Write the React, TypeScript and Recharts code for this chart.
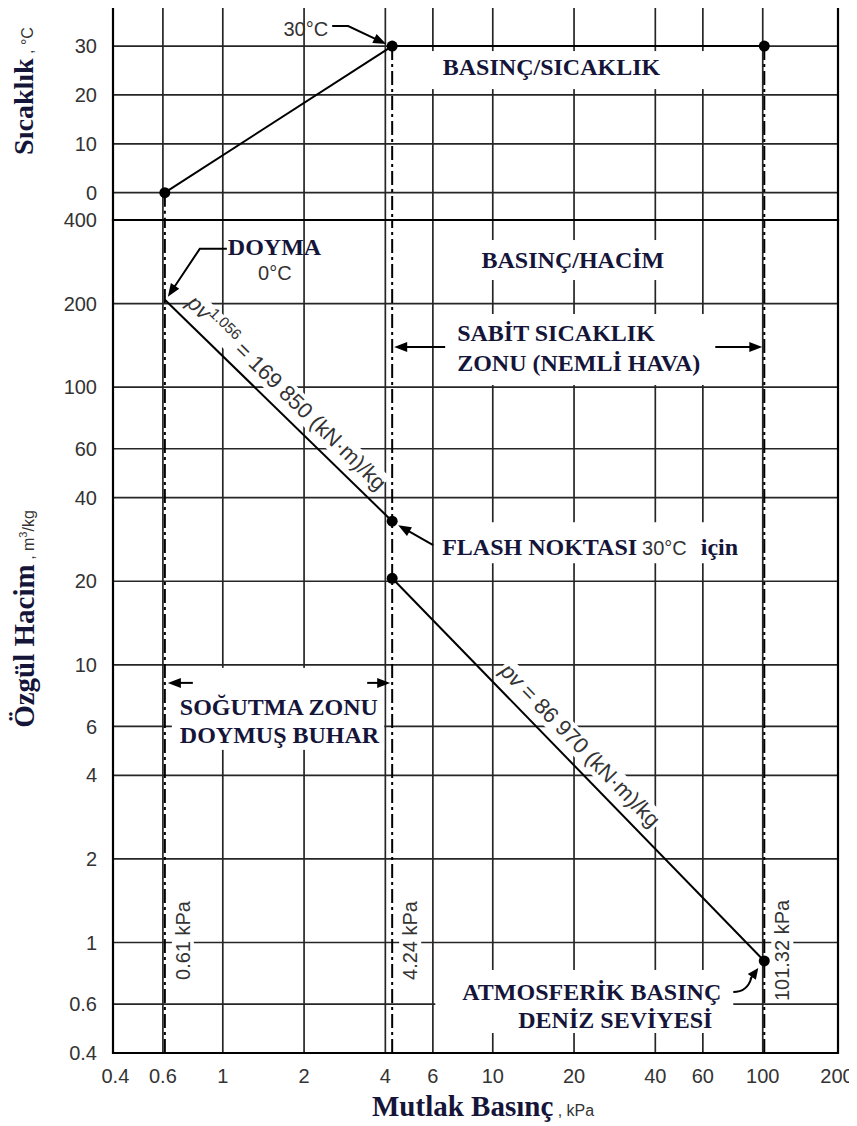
import React from 'react';
import {
  ComposedChart,
  Line,
  Scatter,
  XAxis,
  YAxis,
  CartesianGrid,
  ReferenceLine,
  ReferenceDot,
  ReferenceArea,
} from 'recharts';

// ---------- data ----------
const pressureTicks = [0.4, 0.6, 1, 2, 4, 6, 10, 20, 40, 60, 100, 200];
const pressureGrid = [0.6, 1, 2, 4, 6, 10, 20, 40, 60, 100];
const tempTicks = [0, 10, 20, 30];
const volumeTicks = [0.4, 0.6, 1, 2, 4, 6, 10, 20, 40, 60, 100, 200, 400];
const volumeGrid = [0.6, 1, 2, 4, 6, 10, 20, 40, 60, 100, 200];

const keyPressures = [0.61, 4.24, 101.32];
const keyTemps = [0, 30, 30];

const tempRise = [
  { p: 0.61, t: 0 },
  { p: 4.24, t: 30 },
];
const tempConstant = [
  { p: 4.24, t: 30 },
  { p: 101.32, t: 30 },
];
const tempPoints = [
  { p: 0.61, t: 0 },
  { p: 4.24, t: 30 },
  { p: 101.32, t: 30 },
];

const saturationLine = [
  { p: 0.61, v: 206.6 },
  { p: 4.24, v: 32.9 },
];
const airLine = [
  { p: 4.24, v: 20.5 },
  { p: 101.32, v: 0.858 },
];
const volumePoints = [
  { p: 4.24, v: 32.9 },
  { p: 4.24, v: 20.5 },
  { p: 101.32, v: 0.858 },
];

// axis ranges
const P_DOMAIN: [number, number] = [0.392, 190];
const T_DOMAIN: [number, number] = [-5.6, 38.2];
const V_DOMAIN: [number, number] = [0.4, 400];

// annotation anchors (data space)
const SICAKLIK_ANCHOR = { p: 16.5, t: 25.7 };
const HACIM_ANCHOR = { p: 19.8, v: 287 };
const SABIT_ZONE_V = 139.5;
const SOGUTMA_ZONE_V = 8.61;
const KPA_LABEL_V = 1;

// ---------- styles ----------
const SERIF = "'Liberation Serif', 'Times New Roman', serif";
const SANS = "'Liberation Sans', Arial, sans-serif";
const INK = '#15153a';
const GRAY = '#333333';
const GRID = '#262626';
const DASHDOT = '14 4 3 4';
const PLOT_RIGHT_PX = 838;

const tickStyle = { fill: GRAY, fontSize: 20, fontFamily: SANS };

// ---------- helpers ----------
function ArrowPolyline({ pts, head = 13, half = 5 }: { pts: number[][]; head?: number; half?: number }) {
  const n = pts.length;
  const [x0, y0] = pts[n - 2];
  const [x1, y1] = pts[n - 1];
  const L = Math.hypot(x1 - x0, y1 - y0) || 1;
  const ux = (x1 - x0) / L;
  const uy = (y1 - y0) / L;
  const bx = x1 - ux * head;
  const by = y1 - uy * head;
  const shaft = [...pts.slice(0, -1), [bx + ux, by + uy]].map((q) => q.join(',')).join(' ');
  return (
    <g>
      <polyline points={shaft} fill="none" stroke="#000" strokeWidth={2} />
      <polygon
        points={`${x1},${y1} ${bx - uy * half},${by + ux * half} ${bx + uy * half},${by - ux * half}`}
        fill="#000"
      />
    </g>
  );
}

const boldText = { fontFamily: SERIF, fontWeight: 700 as const, fontSize: 24, fill: INK };
const sansText = { fontFamily: SANS, fontSize: 20, fill: GRAY };

const dotShape = (props: any) => <circle cx={props.cx} cy={props.cy} r={5.5} fill="#000" />;

const PressureTick = (props: any) => {
  const { x, y, payload } = props;
  return (
    <text x={Math.min(x, PLOT_RIGHT_PX - 1)} y={y} dy="0.71em" textAnchor="middle" {...tickStyle}>
      {payload.value}
    </text>
  );
};

// 30°C callout, anchored on the 30 °C point
const Callout30 = ({ cx, cy }: any) => (
  <g>
    <text x={cx - 64} y={cy - 10} textAnchor="end" {...sansText}>
      {`${keyTemps[1]}°C`}
    </text>
    <ArrowPolyline pts={[[cx - 60, cy - 20], [cx - 44, cy - 20], [cx - 6, cy - 2]]} />
  </g>
);

// DOYMA callout, anchored at start of saturation line
const CalloutDoyma = ({ cx, cy }: any) => (
  <g>
    <text x={cx + 63} y={cy - 45} {...boldText}>
      DOYMA
    </text>
    <text x={cx + 110} y={cy - 20} textAnchor="middle" {...sansText}>
      {`${keyTemps[0]}°C`}
    </text>
    <ArrowPolyline pts={[[cx + 62, cy - 51], [cx + 35, cy - 51], [cx + 3, cy - 3]]} />
  </g>
);

const BoxLabel = ({ cx, cy, text, left, right, top, bottom }: any) => (
  <g>
    <rect x={cx - left} y={cy - top} width={left + right} height={top + bottom} fill="#fff" />
    <text x={cx} y={cy + 8} textAnchor="middle" {...boldText}>
      {text}
    </text>
  </g>
);

const CalloutFlash = ({ cx, cy }: any) => (
  <g>
    <rect x={cx + 45} y={cy + 1} width={311} height={41} fill="#fff" />
    <text x={cx + 50} y={cy + 34}>
      <tspan {...boldText}>FLASH NOKTASI</tspan>
      <tspan dx={5} {...sansText}>{`${keyTemps[1]}°C`}</tspan>
      <tspan dx={14} {...boldText}>için</tspan>
    </text>
    <ArrowPolyline pts={[[cx + 41, cy + 24], [cx + 6, cy + 4]]} />
  </g>
);

const CalloutAtm = ({ cx, cy }: any) => (
  <g>
    <rect x={cx - 329} y={cy + 9} width={298} height={63} fill="#fff" />
    <text x={cx - 302} y={cy + 39} {...boldText}>
      ATMOSFERİK BASINÇ
    </text>
    <text x={cx - 246} y={cy + 67} {...boldText}>
      DENİZ SEVİYESİ
    </text>
    <path
      d={`M${cx - 31},${cy + 31} Q${cx - 17},${cy + 31} ${cx - 13},${cy + 17}`}
      fill="none"
      stroke="#000"
      strokeWidth={2}
    />
    <ArrowPolyline pts={[[cx - 14, cy + 18], [cx - 6, cy + 7]]} head={11} half={5} />
  </g>
);

const KpaLabel = ({ cx, cy, text, dy }: any) => {
  const len = text.length * 10 + 2;
  const y = cy + dy;
  const x = cx + 18;
  return (
    <g>
      <rect x={x - 11} y={y - len / 2} width={22} height={len} fill="#fff" />
      <text
        transform={`translate(${x},${y}) rotate(-90)`}
        textAnchor="middle"
        dominantBaseline="central"
        {...sansText}
      >
        {text}
      </text>
    </g>
  );
};

const SabitZone = (props: any) => {
  const { x1, y1, x2 } = props;
  return (
    <g>
      <rect x={x1 + 55} y={y1 - 33} width={x2 - 50 - (x1 + 55)} height={71} fill="#fff" />
      <text x={x1 + 65} y={y1 - 6} {...boldText}>
        SABİT SICAKLIK
      </text>
      <text x={x1 + 65} y={y1 + 24} {...boldText}>
        ZONU (NEMLİ HAVA)
      </text>
      <ArrowPolyline pts={[[x1 + 53, y1], [x1 + 2, y1]]} />
      <ArrowPolyline pts={[[x2 - 49, y1], [x2 - 2, y1]]} />
    </g>
  );
};

const SogutmaZone = (props: any) => {
  const { x1, y1, x2 } = props;
  return (
    <g>
      <rect x={x1 + 7} y={y1 - 15} width={x2 - 8 - (x1 + 7)} height={82} fill="#fff" />
      <text x={x1 + 15} y={y1 + 32} {...boldText}>
        SOĞUTMA ZONU
      </text>
      <text x={x1 + 15} y={y1 + 60} {...boldText}>
        DOYMUŞ BUHAR
      </text>
      <ArrowPolyline pts={[[x1 + 28, y1], [x1 + 3, y1]]} />
      <ArrowPolyline pts={[[x2 - 25, y1], [x2 - 2, y1]]} />
    </g>
  );
};

const makeEquation = (frac: number, offset: number, kind: 'sat' | 'air', boxW: number) => (props: any) => {
  const { x1, y1, x2, y2 } = props;
  const dx = x2 - x1;
  const dy = y2 - y1;
  const L = Math.hypot(dx, dy) || 1;
  const ux = dx / L;
  const uy = dy / L;
  const px = x1 + ux * L * frac + uy * offset;
  const py = y1 + uy * L * frac - ux * offset;
  const ang = (Math.atan2(dy, dx) * 180) / Math.PI;
  return (
    <g transform={`translate(${px},${py}) rotate(${ang})`}>
      <rect x={-boxW / 2} y={-19} width={boxW} height={24} fill="#fff" />
      <text textAnchor="middle" fontFamily={SANS} fontSize={22} fill={GRAY}>
        {kind === 'sat' ? (
          <>
            <tspan fontStyle="italic">pv</tspan>
            <tspan dy={-9} fontSize={15}>1.056</tspan>
            <tspan dy={9}> = 169 850 (kN·m)/kg</tspan>
          </>
        ) : (
          <>
            <tspan fontStyle="italic">pv</tspan>
            <tspan> = 86 970 (kN·m)/kg</tspan>
          </>
        )}
      </text>
    </g>
  );
};

const TempTitle = () => (
  <text transform="translate(33,91) rotate(-90)" textAnchor="middle">
    <tspan fontFamily={SERIF} fontWeight={700} fontSize={28} fill={INK}>
      Sıcaklık
    </tspan>
    <tspan fontFamily={SANS} fontSize={16} fill={GRAY}>
      {' , °C'}
    </tspan>
  </text>
);

const VolumeTitle = () => (
  <text transform="translate(34,419) rotate(-90)" textAnchor="middle">
    <tspan fontFamily={SERIF} fontWeight={700} fontSize={29} fill={INK}>
      Özgül Hacim
    </tspan>
    <tspan fontFamily={SANS} fontSize={16} fill={GRAY}>
      {' , m'}
    </tspan>
    <tspan fontFamily={SANS} fontSize={11} fill={GRAY} dy={-7}>
      3
    </tspan>
    <tspan fontFamily={SANS} fontSize={16} fill={GRAY} dy={7}>
      /kg
    </tspan>
  </text>
);

const PressureTitle = () => (
  <text x={372} y={916}>
    <tspan fontFamily={SERIF} fontWeight={700} fontSize={29} fill={INK}>
      Mutlak Basınç
    </tspan>
    <tspan fontFamily={SANS} fontSize={16} fill={GRAY}>
      {' , kPa'}
    </tspan>
  </text>
);

export default function App() {
  return (
    <div style={{ position: 'relative', left: -8, top: -8, width: 857, height: 1126, background: '#fff' }}>
      {/* ---------- top panel: temperature ---------- */}
      <div style={{ position: 'absolute', left: 0, top: 0 }}>
        <ComposedChart width={857} height={230} margin={{ top: 6, right: 19, bottom: 10, left: 53 }}>
          <XAxis type="number" dataKey="p" scale="log" domain={P_DOMAIN} allowDataOverflow hide />
          <YAxis
            type="number"
            dataKey="t"
            domain={T_DOMAIN}
            allowDataOverflow
            ticks={tempTicks}
            interval={0}
            width={60}
            axisLine={false}
            tickLine={false}
            tickSize={0}
            tickMargin={16}
            tick={tickStyle}
            label={<TempTitle />}
          />
          <CartesianGrid
            verticalValues={pressureGrid}
            horizontalValues={tempTicks}
            stroke={GRID}
            strokeWidth={1.7}
          />
          <ReferenceArea
            x1={P_DOMAIN[0]}
            x2={P_DOMAIN[1]}
            y1={T_DOMAIN[0]}
            y2={T_DOMAIN[1]}
            fill="none"
            fillOpacity={0}
            stroke="#000"
            strokeWidth={2.2}
            ifOverflow="visible"
          />
          <ReferenceDot
            x={SICAKLIK_ANCHOR.p}
            y={SICAKLIK_ANCHOR.t}
            r={0}
            shape={(pr: any) => (
              <BoxLabel {...pr} text="BASINÇ/SICAKLIK" left={121} right={153} top={16} bottom={22} />
            )}
          />
          {keyPressures.map((p, i) => (
            <ReferenceLine
              key={`tdd${i}`}
              segment={[
                { x: p, y: keyTemps[i] },
                { x: p, y: T_DOMAIN[0] },
              ]}
              stroke="#000"
              strokeWidth={2}
              strokeDasharray={DASHDOT}
            />
          ))}
          <Line
            data={tempRise}
            dataKey="t"
            type="linear"
            stroke="#000"
            strokeWidth={2}
            dot={false}
            isAnimationActive={false}
          />
          <Line
            data={tempConstant}
            dataKey="t"
            type="linear"
            stroke="#000"
            strokeWidth={2}
            dot={false}
            isAnimationActive={false}
          />
          <Scatter data={tempPoints} dataKey="t" shape={dotShape} isAnimationActive={false} />
          <ReferenceDot
            x={tempPoints[1].p}
            y={tempPoints[1].t}
            r={0}
            shape={(pr: any) => <Callout30 {...pr} />}
          />
        </ComposedChart>
      </div>

      {/* ---------- bottom panel: specific volume ---------- */}
      <div style={{ position: 'absolute', left: 0, top: 200 }}>
        <ComposedChart width={857} height={926} margin={{ top: 20, right: 19, bottom: 33, left: 53 }}>
          <XAxis
            type="number"
            dataKey="p"
            scale="log"
            domain={P_DOMAIN}
            allowDataOverflow
            ticks={pressureTicks}
            interval={0}
            height={40}
            axisLine={false}
            tickLine={false}
            tickSize={0}
            tickMargin={16}
            tick={<PressureTick />}
            label={<PressureTitle />}
          />
          <YAxis
            type="number"
            dataKey="v"
            scale="log"
            domain={V_DOMAIN}
            allowDataOverflow
            ticks={volumeTicks}
            interval={0}
            width={60}
            axisLine={false}
            tickLine={false}
            tickSize={0}
            tickMargin={16}
            tick={tickStyle}
            label={<VolumeTitle />}
          />
          <CartesianGrid
            verticalValues={pressureGrid}
            horizontalValues={volumeGrid}
            stroke={GRID}
            strokeWidth={1.7}
          />
          <ReferenceArea
            x1={P_DOMAIN[0]}
            x2={P_DOMAIN[1]}
            y1={V_DOMAIN[0]}
            y2={V_DOMAIN[1]}
            fill="none"
            fillOpacity={0}
            stroke="#000"
            strokeWidth={2.2}
            ifOverflow="visible"
          />
          <ReferenceDot
            x={HACIM_ANCHOR.p}
            y={HACIM_ANCHOR.v}
            r={0}
            shape={(pr: any) => <BoxLabel {...pr} text="BASINÇ/HACİM" left={95} right={95} top={20} bottom={20} />}
          />
          {keyPressures.map((p, i) => (
            <ReferenceLine
              key={`vdd${i}`}
              x={p}
              stroke="#000"
              strokeWidth={2}
              strokeDasharray={DASHDOT}
            />
          ))}
          <ReferenceLine
            segment={[
              { x: keyPressures[1], y: SABIT_ZONE_V },
              { x: keyPressures[2], y: SABIT_ZONE_V },
            ]}
            shape={(pr: any) => <SabitZone {...pr} />}
          />
          <ReferenceLine
            segment={[
              { x: keyPressures[0], y: SOGUTMA_ZONE_V },
              { x: keyPressures[1], y: SOGUTMA_ZONE_V },
            ]}
            shape={(pr: any) => <SogutmaZone {...pr} />}
          />
          {keyPressures.map((p, i) => (
            <ReferenceDot
              key={`kpa${i}`}
              x={p}
              y={KPA_LABEL_V}
              r={0}
              shape={(pr: any) => <KpaLabel {...pr} text={`${p} kPa`} dy={i === 2 ? 8 : -2} />}
            />
          ))}
          <ReferenceLine
            segment={[
              { x: saturationLine[0].p, y: saturationLine[0].v },
              { x: saturationLine[1].p, y: saturationLine[1].v },
            ]}
            shape={makeEquation(0.48, 11, 'sat', 266)}
          />
          <ReferenceLine
            segment={[
              { x: airLine[0].p, y: airLine[0].v },
              { x: airLine[1].p, y: airLine[1].v },
            ]}
            shape={makeEquation(0.47, 11, 'air', 222)}
          />
          <Line
            data={saturationLine}
            dataKey="v"
            type="linear"
            stroke="#000"
            strokeWidth={2}
            dot={false}
            isAnimationActive={false}
          />
          <Line
            data={airLine}
            dataKey="v"
            type="linear"
            stroke="#000"
            strokeWidth={2}
            dot={false}
            isAnimationActive={false}
          />
          <Scatter data={volumePoints} dataKey="v" shape={dotShape} isAnimationActive={false} />
          <ReferenceDot
            x={saturationLine[0].p}
            y={saturationLine[0].v}
            r={0}
            shape={(pr: any) => <CalloutDoyma {...pr} />}
          />
          <ReferenceDot
            x={volumePoints[0].p}
            y={volumePoints[0].v}
            r={0}
            shape={(pr: any) => <CalloutFlash {...pr} />}
          />
          <ReferenceDot
            x={volumePoints[2].p}
            y={volumePoints[2].v}
            r={0}
            shape={(pr: any) => <CalloutAtm {...pr} />}
          />
        </ComposedChart>
      </div>
    </div>
  );
}
